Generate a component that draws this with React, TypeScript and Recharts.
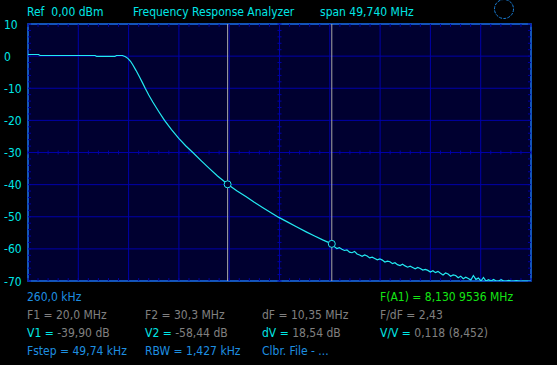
import { LineChart, Line, XAxis, YAxis, CartesianGrid, ReferenceLine, ReferenceArea, ReferenceDot } from 'recharts';

// sweep: frequency (MHz) and level (dB)
const freqMHz = [
    0.26, 1.3, 1.45, 6.9, 7.05, 8.85, 9.0, 9.6, 9.9, 10.13, 10.4, 10.62, 10.95, 11.29, 11.6, 11.85, 12.2, 12.6, 13.2,
    13.76, 14.45, 15.17, 15.85, 16.56, 17.4, 18.21, 19.0, 19.86, 20.0, 20.9, 21.84, 22.6, 23.45, 24.25, 25.06,
    25.9, 26.8, 27.77, 28.6, 29.4, 30.3, 30.55, 30.8, 31.05, 31.3, 31.55, 31.8, 32.05, 32.3, 32.55, 32.8, 33.05,
    33.3, 33.55, 33.8, 34.05, 34.3, 34.55, 34.8, 35.05, 35.3, 35.55, 35.8, 36.05, 36.3, 36.55, 36.8, 37.05, 37.3,
    37.55, 37.8, 38.05, 38.3, 38.55, 38.8, 39.05, 39.3, 39.55, 39.8, 40.05, 40.3, 40.55, 40.8, 41.05, 41.3, 41.55,
    41.8, 42.05, 42.3, 42.55, 42.8, 43.05, 43.3, 43.55, 43.8, 44.05, 44.3, 44.55, 44.8, 45.05, 45.3, 45.55, 45.8,
    46.05, 46.3, 46.55, 46.8, 47.05, 47.3, 47.55, 47.8, 48.05, 48.3, 48.55, 48.8, 50.0,
];
const levelDb = [
    0.5, 0.5, 0.2, 0.2, -0.1, -0.1, 0.2, 0.2, -0.2, -0.7, -1.6, -2.7, -4.5, -6.5, -8.4, -10.0, -12.1, -14.3, -17.3,
    -20.0, -22.9, -25.6, -27.9, -30.0, -32.6, -35.0, -37.3, -39.5, -39.9, -41.9, -43.8, -45.4, -47.1, -48.7, -50.2,
    -51.6, -53.1, -54.7, -56.0, -57.2, -58.44, -59.3, -59.9, -59.6, -60.1, -60.5, -60.3, -61.0, -61.2, -60.8, -61.6, -61.9,
    -62.3, -61.9, -62.2, -62.8, -62.6, -63.0, -63.4, -63.1, -63.5, -64.1, -63.8, -64.0, -64.6, -64.3, -64.9, -65.2, -64.8,
    -65.3, -65.7, -65.4, -65.8, -66.2, -65.8, -66.1, -66.6, -66.4, -66.7, -67.2, -66.8, -67.4, -67.0, -67.6, -68.1, -67.5,
    -67.8, -68.5, -68.1, -68.3, -69.0, -68.5, -69.3, -68.8, -69.2, -69.7, -68.3, -69.5, -69.1, -70.0, -68.9, -70.0, -69.6,
    -70.0, -69.5, -70.0, -70.0, -69.6, -70.0, -70.0, -69.8, -70.0, -70.0, -69.9, -70.0, -70.0,
];

const freqTicks = [0.26, 5.234, 10.208, 15.182, 20.156, 25.13, 30.104, 35.078, 40.052, 45.026, 50];
const dbTicks = [10, 0, -10, -20, -30, -40, -50, -60, -70];

const markers = [
    { f: 20.0, db: -39.9 },
    { f: 30.3, db: -58.44 },
];

const data = freqMHz.map((f, i) => ({ f, db: levelDb[i] }));

const F0 = freqTicks[0];
const F1 = freqTicks[freqTicks.length - 1];
const FMID = freqTicks[5];
const DB_TOP = dbTicks[0];
const DB_BOT = dbTicks[dbTicks.length - 1];
const DB_MID = -30;

// minor ticks: 5 per x division, every 2 dB
const minorX = Array.from({ length: 51 }, (_, i) => F0 + ((F1 - F0) * i) / 50);
const minorY = Array.from({ length: 41 }, (_, i) => DB_TOP - i * 2);

const GRID = '#0000a8';
const FONT = "'DejaVu Sans Condensed', 'DejaVu Sans', sans-serif";
const CYAN = '#00e6e6';
const BLUE = '#1e8fe0';
const GRAY = '#808080';

function YTick(props: any) {
    const { y, payload } = props;
    return (
        <text x={4} y={y + 4.5} fill={CYAN} fontSize={12} fontFamily={FONT} style={{ fontStretch: 'condensed' }}>
            {payload.value}
        </text>
    );
}

export default function App() {
    const tick = { stroke: GRID, strokeWidth: 1 };
    return (
        <div style={{ position: 'relative', width: 557, height: 365, background: '#000' }}>
            <style>{'body{margin:0;background:#000}'}</style>
            <LineChart width={557} height={365} data={data} margin={{ top: 24, right: 26, bottom: 84, left: 0 }}>
                <CartesianGrid fill="#000030" stroke={GRID} strokeWidth={1} />
                <XAxis dataKey="f" type="number" domain={[F0, F1]} ticks={freqTicks} hide allowDataOverflow />
                <YAxis
                    type="number"
                    domain={[DB_BOT, DB_TOP]}
                    ticks={dbTicks}
                    width={28}
                    axisLine={false}
                    tickLine={false}
                    tick={<YTick />}
                    interval={0}
                    allowDataOverflow
                />
                {minorY.map((v) => (
                    <ReferenceLine key={'l' + v} segment={[{ x: F0, y: v }, { x: F0 + 0.3, y: v }]} {...tick} />
                ))}
                {minorY.map((v) => (
                    <ReferenceLine key={'r' + v} segment={[{ x: F1 - 0.3, y: v }, { x: F1, y: v }]} {...tick} />
                ))}
                {minorY.map((v) => (
                    <ReferenceLine key={'c' + v} segment={[{ x: FMID - 0.2, y: v }, { x: FMID + 0.2, y: v }]} {...tick} />
                ))}
                {minorX.map((v) => (
                    <ReferenceLine key={'t' + v} segment={[{ x: v, y: DB_TOP }, { x: v, y: DB_TOP - 0.9 }]} {...tick} />
                ))}
                {minorX.map((v) => (
                    <ReferenceLine key={'b' + v} segment={[{ x: v, y: DB_BOT }, { x: v, y: DB_BOT + 0.9 }]} {...tick} />
                ))}
                {minorX.map((v) => (
                    <ReferenceLine key={'m' + v} segment={[{ x: v, y: DB_MID - 0.6 }, { x: v, y: DB_MID + 0.6 }]} {...tick} />
                ))}
                <ReferenceArea x1={F0} x2={F1} y1={DB_BOT} y2={DB_TOP} fill="none" stroke="#1a70d8" strokeWidth={1.5} fillOpacity={0} />
                {markers.map((m) => (
                    <ReferenceLine key={'mk' + m.f} x={m.f} stroke="#a8a8a8" strokeWidth={1} />
                ))}
                <Line
                    type="linear"
                    dataKey="db"
                    stroke="#22eaf2"
                    strokeWidth={1.2}
                    dot={false}
                    isAnimationActive={false}
                />
                {markers.map((m) => (
                    <ReferenceDot key={'d' + m.f} x={m.f} y={m.db} r={3.5} fill="#000030" stroke="#22eaf2" strokeWidth={1} />
                ))}
            </LineChart>
            <svg
                width={557}
                height={365}
                style={{ position: 'absolute', left: 0, top: 0, pointerEvents: 'none' }}
                fontFamily={FONT}
                fontSize={12}
            >
                <g style={{ fontStretch: 'condensed', whiteSpace: 'pre' }}>
                    <text x={27} y={16} fill={CYAN}>{'Ref\u00a0\u00a00,00 dBm'}</text>
                    <text x={133} y={16} fill={CYAN}>Frequency Response Analyzer</text>
                    <text x={320} y={16} fill={CYAN}>span 49,740 MHz</text>
                    <circle cx={504} cy={9} r={9.5} fill="none" stroke="#1a7fd8" strokeDasharray="3 1.2" />

                    <text x={27} y={301} fill={BLUE}>260,0 kHz</text>
                    <text x={380} y={301} fill="#14e614">F(A1) = 8,130 9536 MHz</text>

                    <text x={27} y={319} fill={GRAY}>F1 = 20,0 MHz</text>
                    <text x={145} y={319} fill={GRAY}>F2 = 30,3 MHz</text>
                    <text x={262} y={319} fill={GRAY}>dF = 10,35 MHz</text>
                    <text x={380} y={319} fill={GRAY}>F/dF = 2,43</text>

                    <text x={27} y={337} fill={GRAY}><tspan fill={CYAN}>V1 = </tspan>-39,90 dB</text>
                    <text x={145} y={337} fill={GRAY}><tspan fill={CYAN}>V2 = </tspan>-58,44 dB</text>
                    <text x={262} y={337} fill={GRAY}><tspan fill={CYAN}>dV = </tspan>18,54 dB</text>
                    <text x={380} y={337} fill={GRAY}><tspan fill={CYAN}>V/V = </tspan>0,118 (8,452)</text>

                    <text x={27} y={355} fill={BLUE}>Fstep = 49,74 kHz</text>
                    <text x={145} y={355} fill={BLUE}>RBW = 1,427 kHz</text>
                    <text x={262} y={355} fill={BLUE}>Clbr. File - ...</text>
                </g>
            </svg>
        </div>
    );
}
